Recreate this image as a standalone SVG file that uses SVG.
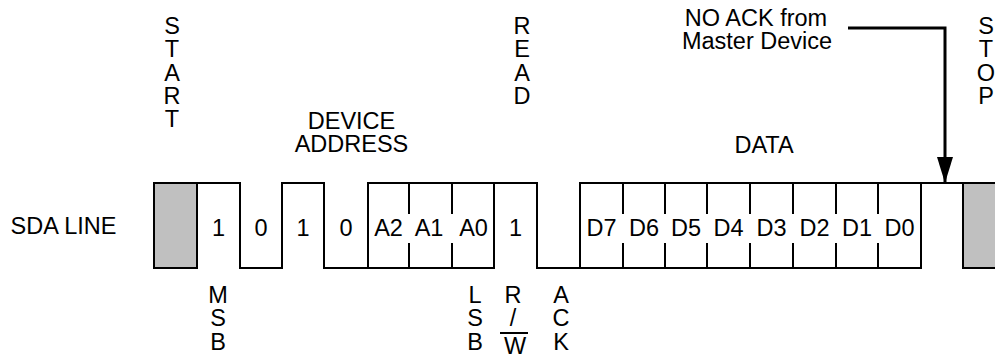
<svg xmlns="http://www.w3.org/2000/svg" width="995" height="358" viewBox="0 0 995 358">
<defs>
<style>
text{font-family:"Liberation Sans",Arial,sans-serif;font-size:23.5px;fill:#000;text-anchor:middle}
.w{fill:none;stroke:#000;stroke-width:2;stroke-linejoin:miter;stroke-linecap:square}
.g{fill:#c0c0c0;stroke:#000;stroke-width:2}
.d{stroke:#000;stroke-width:2}
</style>
<marker id="ah" markerWidth="26" markerHeight="16" refX="26" refY="8" orient="auto" markerUnits="userSpaceOnUse" viewBox="0 0 26 16">
<path d="M0,0 L26,8 L0,16 Z" fill="#000"/>
</marker>
</defs>
<rect width="995" height="358" fill="#fff"/>
<g id="label-start"><text x="172" y="34">S<tspan x="172" dy="23.3">T</tspan><tspan x="172" dy="23.3">A</tspan><tspan x="172" dy="23.3">R</tspan><tspan x="172" dy="23.3">T</tspan></text></g>
<g id="label-device-address"><text x="351.5" y="128.7">DEVICE<tspan x="351.5" dy="23.3">ADDRESS</tspan></text></g>
<g id="label-read"><text x="522" y="34">R<tspan x="522" dy="23.3">E</tspan><tspan x="522" dy="23.3">A</tspan><tspan x="522" dy="23.3">D</tspan></text></g>
<g id="label-noack"><text x="756" y="25.5">NO ACK from<tspan x="757" dy="23.3">Master Device</tspan></text></g>
<g id="label-data"><text x="764" y="153">DATA</text></g>
<g id="label-stop"><text x="986" y="34">S<tspan x="986" dy="23.3">T</tspan><tspan x="986" dy="23.3">O</tspan><tspan x="986" dy="23.3">P</tspan></text></g>
<g id="sda-label"><text x="63.5" y="234">SDA LINE</text></g>
<g id="start-box"><rect class="g" x="154" y="183" width="43" height="85"/></g>
<g id="stop-box"><rect class="g" x="963" y="183" width="40" height="85"/></g>
<g id="waveform">
<path class="w" d="M197,183 H240 V268 H282 V183 H324 V268 H368 V183 H537 V268 H580 V183 H963"/>
<path class="w" d="M368,268 H494 V183"/>
<path class="w" d="M580,183 V268 H921 V183"/>
<line class="d" x1="580" y1="183" x2="580" y2="268" stroke-width="3"/>
<path class="d" d="M409,183 V214 M409,243 V268 M452,183 V214 M452,243 V268 M623,183 V214 M623,243 V268 M665,183 V214 M665,243 V268 M707,183 V214 M707,243 V268 M750,183 V214 M750,243 V268 M793,183 V214 M793,243 V268 M836,183 V214 M836,243 V268 M878,183 V214 M878,243 V268"/>
</g>
<g id="bits">
<text x="218.5" y="236">1</text><text x="261" y="236">0</text><text x="303" y="236">1</text><text x="346" y="236">0</text>
<text x="388.5" y="236">A2</text><text x="429" y="236">A1</text><text x="473.5" y="236">A0</text><text x="515.5" y="236">1</text>
<text x="601.5" y="236">D7</text><text x="644" y="236">D6</text><text x="686" y="236">D5</text><text x="728.5" y="236">D4</text>
<text x="771.5" y="236">D3</text><text x="814.5" y="236">D2</text><text x="857" y="236">D1</text><text x="899.5" y="236">D0</text>
</g>
<g id="label-msb"><text x="218" y="303">M<tspan x="218" dy="23.3">S</tspan><tspan x="218" dy="23.3">B</tspan></text></g>
<g id="label-lsb"><text x="475" y="303">L<tspan x="475" dy="23.3">S</tspan><tspan x="475" dy="23.3">B</tspan></text></g>
<g id="label-rw">
<text x="513" y="303">R<tspan x="513" dy="23.3">/</tspan><tspan x="515" dy="27.5">W</tspan></text>
<line class="d" x1="500" y1="333" x2="528" y2="333" stroke-width="2.5"/>
</g>
<g id="label-ack"><text x="561" y="303">A<tspan x="561" dy="23.3">C</tspan><tspan x="561" dy="23.3">K</tspan></text></g>
<g id="connectors">
<path d="M848,28 H945 V183" fill="none" stroke="#000" stroke-width="3" marker-end="url(#ah)"/>
</g>
</svg>
